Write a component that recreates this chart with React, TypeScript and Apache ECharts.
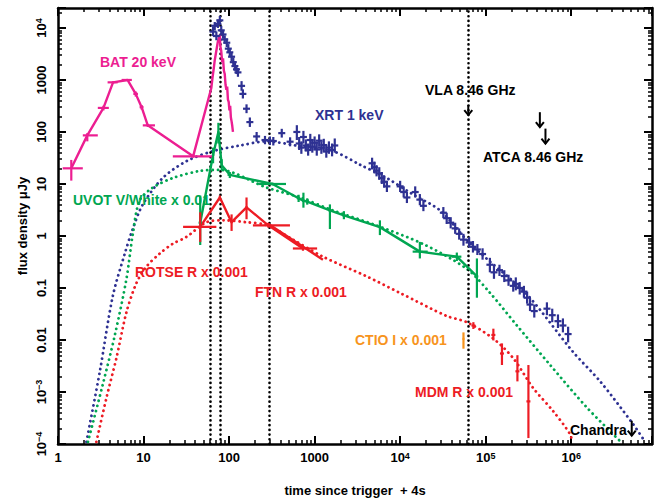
import { useEffect, useRef } from 'react';
import * as echarts from 'echarts';

const FONT = '"Liberation Sans", Arial, Helvetica, sans-serif';
const C_BAT = '#EC1E91';
const C_XRT = '#2E3192';
const C_UVOT = '#00A651';
const C_RED = '#ED1C24';
const C_CTIO = '#F7941D';

// axis ranges
const X_MIN = 1;
const X_MAX = 8.8e6;
const Y_MIN = 1e-4;
const Y_MAX = 2.42e4;

// tick labels by decade exponent
const X_TICK_EXPS = [0, 1, 2, 3, 4, 5, 6];
const X_TICK_LABELS = ['1', '10', '100', '1000', '10^4', '10^5', '10^6'];
const Y_TICK_EXPS = [-4, -3, -2, -1, 0, 1, 2, 3, 4];
const Y_TICK_LABELS = ['10^−4', '10^−3', '0.01', '0.1', '1', '10', '100', '1000', '10^4'];

// vertical dotted reference times (s)
const VERTICAL_LINES = [60, 78, 293, 62600];

// BAT 20 keV: [t, f, tLo, tHi, fLo, fHi]
const BAT_POINTS = [
  [1.43, 20, 1.135, 1.95, 11.6, 29],
  [2.2, 86, 1.95, 2.92, 66, 95],
  [3.4, 290, 2.92, 3.93, 260, 320],
  [4.4, 900, 3.8, 4.98, 860, 940],
  [6.5, 1000, 5.55, 7.3, 960, 1040],
  [8.1, 540, 7.6, 8.6, 480, 600],
  [9.5, 300, 9.0, 10.0, 270, 330],
  [11.2, 134, 9.8, 13.6, 125, 143],
  [38, 34, 22, 65, 32, 36],
];
// BAT dense light curve around the main peak: [t, f]
const BAT_DENSE = [
  [62, 700], [64, 1100], [66, 1600], [68, 2400], [70, 3200], [72, 4200], [74, 5500],
  [76, 6500], [78, 7400], [79, 4500], [81, 3600], [83, 2200], [85, 2600], [87, 1500],
  [89, 1300], [91, 800], [93, 650], [95, 750], [97, 420], [99, 380], [101, 260],
  [103, 320], [105, 190], [107, 160], [109, 130], [111, 100],
];

// XRT 1 keV: [t, f, fLo, fHi]
const XRT = [
  [65, 8500, 7000, 10500], [68, 11000, 9000, 13000], [71, 7000, 5800, 8500],
  [74, 12000, 10000, 14500], [78, 14000, 11500, 17000], [81, 9000, 7500, 11000],
  [85, 7500, 6200, 9000], [89, 6000, 5000, 7200], [94, 5200, 4300, 6300],
  [98, 4000, 3300, 4900], [102, 3400, 2800, 4100], [107, 2800, 2300, 3400],
  [112, 2200, 1800, 2700], [117, 1850, 1500, 2250], [122, 1600, 1300, 1950],
  [127, 1400, 1150, 1700], [140, 770, 620, 950], [145, 540, 440, 660],
  [160, 280, 230, 340], [175, 155, 125, 190], [210, 82, 65, 100],
  [263, 70, 58, 84], [300, 68, 56, 82], [329, 67, 55, 80], [413, 95, 78, 115],
  [517, 65, 53, 79], [620, 100, 70, 135], [660, 60, 45, 80], [700, 50, 38, 66],
  [740, 80, 60, 105], [790, 55, 42, 72], [840, 45, 35, 60], [890, 70, 53, 92],
  [940, 52, 40, 68], [1000, 62, 47, 82], [1060, 46, 35, 61], [1130, 68, 52, 90],
  [1200, 50, 38, 66], [1280, 56, 42, 74], [1370, 42, 32, 56], [1470, 50, 38, 66],
  [1600, 45, 34, 60], [1720, 55, 40, 75],
  [4700, 25, 19, 32], [5000, 21, 16, 27], [5300, 18, 14, 23], [5700, 16, 12, 21],
  [6100, 13, 10, 17], [6500, 11, 8.5, 14], [7000, 9, 7, 11.5],
  [10000, 9, 7, 11.5], [11000, 7, 5.5, 9], [12000, 5.5, 4.3, 7],
  [15000, 7, 5.5, 9], [17000, 5, 3.9, 6.4], [18700, 3.8, 3, 4.9],
  [32000, 2.8, 2.2, 3.6], [35000, 2.2, 1.7, 2.8], [39000, 1.8, 1.4, 2.3],
  [44000, 1.4, 1.1, 1.8], [49000, 1.1, 0.85, 1.4], [55000, 0.85, 0.65, 1.1],
  [64000, 0.75, 0.6, 0.95], [71000, 0.62, 0.48, 0.8], [80000, 0.55, 0.43, 0.7],
  [92000, 0.45, 0.35, 0.58], [112000, 0.28, 0.2, 0.38], [125000, 0.2, 0.15, 0.27],
  [145000, 0.22, 0.17, 0.28], [165000, 0.17, 0.13, 0.22], [185000, 0.14, 0.11, 0.18],
  [210000, 0.11, 0.085, 0.14], [225000, 0.12, 0.09, 0.16], [250000, 0.1, 0.075, 0.13],
  [280000, 0.085, 0.065, 0.11], [305000, 0.065, 0.05, 0.085], [330000, 0.048, 0.036, 0.064],
  [370000, 0.036, 0.027, 0.048], [520000, 0.04, 0.03, 0.053], [600000, 0.03, 0.022, 0.04],
  [700000, 0.023, 0.017, 0.031], [800000, 0.019, 0.014, 0.026], [920000, 0.013, 0.009, 0.018],
];

// UVOT V/White x 0.01: [t, f, tLo, tHi, fLo, fHi]
const UVOT = [
  [46, 1.8, 44, 48, 0.67, 6],
  [65, 36, 63, 67, 25, 50],
  [75, 100, 73, 77, 60, 150],
  [82, 23, 80, 84, 18, 30],
  [102, 15, 96, 108, 13, 17],
  [322, 10, 224, 463, 9.4, 10.6],
  [650, 5.3, 620, 680, 4.5, 6.2],
  [740, 4.75, 710, 770, 3.5, 6.8],
  [820, 4.6, 790, 850, 4.0, 5.3],
  [1510, 3.1, 1450, 1570, 1.36, 4.05],
  [2200, 2.5, 2100, 2300, 2.1, 3.0],
  [5800, 1.48, 5600, 6000, 1.04, 2.0],
  [17000, 0.5, 14000, 21000, 0.37, 0.77],
  [46000, 0.4, 40000, 52000, 0.33, 0.48],
  [79000, 0.167, 76000, 82000, 0.065, 0.37],
];

// ROTSE R + FTN R x 0.001: [t, f, tLo, tHi, fLo, fHi]
const ROTSE_FTN = [
  [46, 1.5, 29, 71, 0.77, 2.85],
  [78, 5.5, 77, 79, 5.0, 6.0],
  [107, 1.84, 104, 110, 1.25, 2.6],
  [160, 3.55, 155, 165, 2.1, 5.5],
  [287, 1.6, 190, 515, 1.45, 1.75],
  [731, 0.575, 557, 1070, 0.52, 0.63],
];
const FTN_FIT = [[280, 1.75], [1250, 0.35]];

// MDM R x 0.001: [t, f, fLo, fHi]
const MDM = [
  [71800, 0.019, 0.0163, 0.022],
  [123000, 0.0125, 0.0098, 0.0165],
  [155000, 0.0055, 0.0033, 0.0086],
  [235000, 0.0025, 0.0016, 0.0051],
  [316000, 0.00066, 0.00013, 0.0033],
];
// CTIO I x 0.001: [t, f, fLo, fHi]
const CTIO = [[55000, 0.0105, 0.0068, 0.014]];

// upper limits: [t, f]
const VLA_LIMIT = [[62600, 330]];
const ATCA_LIMITS = [[430000, 240], [500000, 116]];
const CHANDRA_LIMIT = [[5.1e6, 2.8e-4]];

// model curves (dotted): [t, f]
const MODEL_XRT = [
  [2.15, 1.1e-4], [3.08, 0.00245], [4.37, 0.0697], [6.04, 0.46], [7.49, 1.37],
  [9.8, 4.04], [16.8, 13.1], [32, 27.6], [64.6, 42.7], [135, 55], [275, 66],
  [680, 53], [1640, 42.7], [3390, 23.5], [6970, 13], [14100, 6.3], [29300, 3.1],
  [60000, 0.84], [102000, 0.37], [302000, 0.076], [1.05e6, 0.0059], [2.18e6, 0.0016],
  [5.3e6, 2.4e-4], [7.3e6, 1.1e-4],
];
const MODEL_UVOT = [
  [2.24, 1.1e-4], [3.33, 0.00137], [4.61, 0.0122], [6.3, 0.147], [7.5, 1.1],
  [9.0, 4.8], [12.8, 8.5], [22, 13], [45.5, 17.8], [78, 18.6], [276, 8.5],
  [675, 5.5], [1640, 3.1], [4800, 1.69], [18600, 0.7], [60800, 0.23],
  [112000, 0.081], [232000, 0.019], [568000, 0.0033], [1.53e6, 5e-4], [3.8e6, 1.1e-4],
];
const MODEL_RED = [
  [2.81, 1.1e-4], [3.69, 7.8e-4], [4.82, 0.0045], [6.3, 0.0337], [8.27, 0.125],
  [10.8, 0.257], [15.5, 0.46], [22, 0.71], [31.8, 0.96], [54.5, 1.84], [84.6, 2.0],
  [160, 1.84], [275, 1.62], [560, 0.85], [1250, 0.4], [4070, 0.167],
  [10000, 0.08], [35000, 0.029], [60000, 0.022], [122000, 0.0107], [209000, 0.0045],
  [358000, 0.0012], [614000, 4.3e-4], [970000, 1.55e-4], [1.02e6, 1.1e-4],
];

// annotation texts: [text, colour, left x, centre y]
const ANNOTATIONS: [string, string, number, number][] = [
  ['BAT 20 keV', C_BAT, 100, 62],
  ['XRT 1 keV', C_XRT, 315, 115],
  ['VLA 8.46 GHz', '#000', 425, 90],
  ['ATCA 8.46 GHz', '#000', 483, 157],
  ['UVOT V/White x 0.01', C_UVOT, 73, 200],
  ['ROTSE R x 0.001', C_RED, 135, 272],
  ['FTN R x 0.001', C_RED, 255, 292],
  ['CTIO I x 0.001', C_CTIO, 355, 340],
  ['MDM R x 0.001', C_RED, 415, 392],
  ['Chandra', '#000', 570, 430],
];

function richLabel(lab: string) {
  if (lab.indexOf('^') >= 0) {
    const [b, s] = lab.split('^');
    return `{b|${b}}{s|${s}}`;
  }
  return `{b|${lab}}`;
}

function makeFormatter(exps: number[], labels: string[]) {
  return (v: number) => {
    const e = Math.round(Math.log10(v));
    if (Math.abs(v - Math.pow(10, e)) / Math.pow(10, e) > 1e-6) return '';
    const i = exps.indexOf(e);
    if (i < 0) return '';
    return richLabel(labels[i]);
  };
}

const labelRich = {
  b: { fontSize: 13, fontWeight: 'bold', fontFamily: FONT, color: '#000' },
  s: { fontSize: 9, fontWeight: 'bold', fontFamily: FONT, color: '#000', verticalAlign: 'top', padding: [0, 0, 4, 0] },
};

function errorBars(name: string, data: number[][], color: string, width: number) {
  return {
    type: 'custom',
    name,
    data,
    encode: { x: 0, y: 1 },
    z: 6,
    silent: true,
    renderItem: (_p: any, api: any) => {
      const t = api.value(0);
      const f = api.value(1);
      const a = api.coord([api.value(2), f]);
      const b = api.coord([api.value(3), f]);
      const lo = api.coord([t, api.value(4)]);
      const hi = api.coord([t, api.value(5)]);
      return {
        type: 'group',
        children: [
          { type: 'line', shape: { x1: a[0], y1: a[1], x2: b[0], y2: b[1] }, style: { stroke: color, lineWidth: width } },
          { type: 'line', shape: { x1: lo[0], y1: lo[1], x2: hi[0], y2: hi[1] }, style: { stroke: color, lineWidth: width } },
        ],
      };
    },
  };
}

function vBars(name: string, data: number[][], color: string, width: number, half: number) {
  return {
    type: 'custom',
    name,
    data,
    encode: { x: 0, y: 1 },
    z: 6,
    silent: true,
    renderItem: (_p: any, api: any) => {
      const t = api.value(0);
      const c = api.coord([t, api.value(1)]);
      const lo = api.coord([t, api.value(2)]);
      const hi = api.coord([t, api.value(3)]);
      return {
        type: 'group',
        children: [
          { type: 'line', shape: { x1: c[0] - half, y1: c[1], x2: c[0] + half, y2: c[1] }, style: { stroke: color, lineWidth: width } },
          { type: 'line', shape: { x1: lo[0], y1: lo[1], x2: hi[0], y2: hi[1] }, style: { stroke: color, lineWidth: width } },
        ],
      };
    },
  };
}

function upperLimits(name: string, data: number[][], len: number) {
  return {
    type: 'custom',
    name,
    data,
    encode: { x: 0, y: 1 },
    z: 7,
    silent: true,
    renderItem: (_p: any, api: any) => {
      const c = api.coord([api.value(0), api.value(1)]);
      const x = c[0];
      const y = c[1];
      return {
        type: 'group',
        children: [
          { type: 'line', shape: { x1: x, y1: y, x2: x, y2: y + len }, style: { stroke: '#000', lineWidth: 2 } },
          {
            type: 'polyline',
            shape: { points: [[x - 4, y + len - 5], [x, y + len], [x + 4, y + len - 5]] },
            style: { stroke: '#000', lineWidth: 2, fill: 'none' },
          },
        ],
      };
    },
  };
}

function model(name: string, data: number[][], color: string) {
  return {
    type: 'line',
    name,
    data,
    showSymbol: false,
    smooth: 0.3,
    z: 3,
    silent: true,
    lineStyle: { color, width: 2.8, type: [0.1, 5.2], cap: 'round' },
  };
}

function solid(name: string, data: number[][], color: string, width: number) {
  return {
    type: 'line',
    name,
    data,
    showSymbol: false,
    z: 5,
    silent: true,
    lineStyle: { color, width },
  };
}

function axisBase(min: number, max: number) {
  return {
    type: 'log',
    logBase: 10,
    min,
    max,
    splitNumber: 10,
    axisLine: { show: true, onZero: false, lineStyle: { color: '#000', width: 2.5 } },
    axisTick: { show: true, inside: true, length: 8, lineStyle: { color: '#000', width: 2 } },
    minorTick: { show: true, splitNumber: 9, length: 4, lineStyle: { color: '#000', width: 1.5 } },
    splitLine: { show: false },
    minorSplitLine: { show: false },
  };
}

export default function App() {
  const ref = useRef<HTMLDivElement>(null);
  useEffect(() => {
    if (!ref.current) return;
    const chart = echarts.init(ref.current, null, { renderer: 'svg' });
    const option: any = {
      animation: false,
      backgroundColor: '#fff',
      textStyle: { fontFamily: FONT },
      grid: { left: 58, right: 10, top: 8, bottom: 52, containLabel: false },
      xAxis: [
        {
          ...axisBase(X_MIN, X_MAX),
          position: 'bottom',
          name: 'time since trigger  + 4s',
          nameLocation: 'middle',
          nameGap: 40,
          nameTextStyle: { fontSize: 13, fontWeight: 'bold', fontFamily: FONT, color: '#000' },
          axisLabel: {
            show: true,
            margin: 7,
            showMaxLabel: false,
            formatter: makeFormatter(X_TICK_EXPS, X_TICK_LABELS),
            rich: labelRich,
          },
        },
        {
          ...axisBase(X_MIN, X_MAX),
          position: 'top',
          axisLabel: { show: false },
        },
      ],
      yAxis: [
        {
          ...axisBase(Y_MIN, Y_MAX),
          position: 'left',
          name: 'flux density μJy',
          nameLocation: 'middle',
          nameGap: 29,
          nameRotate: 90,
          nameTextStyle: { fontSize: 13, fontWeight: 'bold', fontFamily: FONT, color: '#000' },
          axisLabel: { show: false },
        },
        {
          ...axisBase(Y_MIN, Y_MAX),
          position: 'right',
          axisLabel: { show: false },
        },
      ],
      series: [
        {
          ...model('XRT model', MODEL_XRT, C_XRT),
          markLine: {
            silent: true,
            symbol: ['none', 'none'],
            label: { show: false },
            lineStyle: { color: '#000', width: 2.6, type: [0.1, 4.6], cap: 'round' },
            emphasis: { disabled: true },
            data: VERTICAL_LINES.map((v) => ({ xAxis: v })),
          },
        },
        model('UVOT model', MODEL_UVOT, C_UVOT),
        model('R model', MODEL_RED, C_RED),
        solid('BAT', [...BAT_POINTS.map((p) => [p[0], p[1]]), ...BAT_DENSE], C_BAT, 2.4),
        errorBars('BAT err', BAT_POINTS, C_BAT, 2.2),
        vBars('XRT', XRT, C_XRT, 2.2, 3.5),
        solid('UVOT', UVOT.map((p) => [p[0], p[1]]), C_UVOT, 2.4),
        errorBars('UVOT err', UVOT, C_UVOT, 2.2),
        solid('ROTSE FTN', ROTSE_FTN.map((p) => [p[0], p[1]]), C_RED, 2.4),
        solid('FTN fit', FTN_FIT, C_RED, 2.4),
        errorBars('ROTSE FTN err', ROTSE_FTN, C_RED, 2.2),
        vBars('MDM', MDM, C_RED, 2.2, 2),
        vBars('CTIO', CTIO, C_CTIO, 2.2, 1),
        upperLimits('VLA', VLA_LIMIT, 10),
        upperLimits('ATCA', ATCA_LIMITS, 15),
        upperLimits('Chandra', CHANDRA_LIMIT, 15),
      ],
    };
    chart.setOption(option);

    // rotated y tick labels, placed through the y axis scale
    const yLabels = Y_TICK_EXPS.map((e, i) => {
      const py = chart.convertToPixel({ yAxisIndex: 0 }, Math.pow(10, e)) as number;
      return {
        type: 'text',
        x: 41,
        y: py,
        rotation: Math.PI / 2,
        silent: true,
        style: {
          text: richLabel(Y_TICK_LABELS[i]),
          rich: labelRich,
          fill: '#000',
          font: `bold 13px ${FONT}`,
          align: 'center',
          verticalAlign: 'middle',
          textAlign: 'center',
          textVerticalAlign: 'middle',
        },
      };
    });
    const annotations = ANNOTATIONS.map(([text, color, x, y]) => ({
      type: 'text',
      x,
      y,
      z: 10,
      silent: true,
      style: {
        text,
        fill: color,
        font: `bold 14px ${FONT}`,
        textAlign: 'left',
        textVerticalAlign: 'middle',
        align: 'left',
        verticalAlign: 'middle',
      },
    }));
    chart.setOption({ graphic: [...annotations, ...yLabels] });
    return () => chart.dispose();
  }, []);
  return (
    <div
      ref={ref}
      style={{ position: 'fixed', left: 0, top: 0, width: 662, height: 502, background: '#fff' }}
    />
  );
}
